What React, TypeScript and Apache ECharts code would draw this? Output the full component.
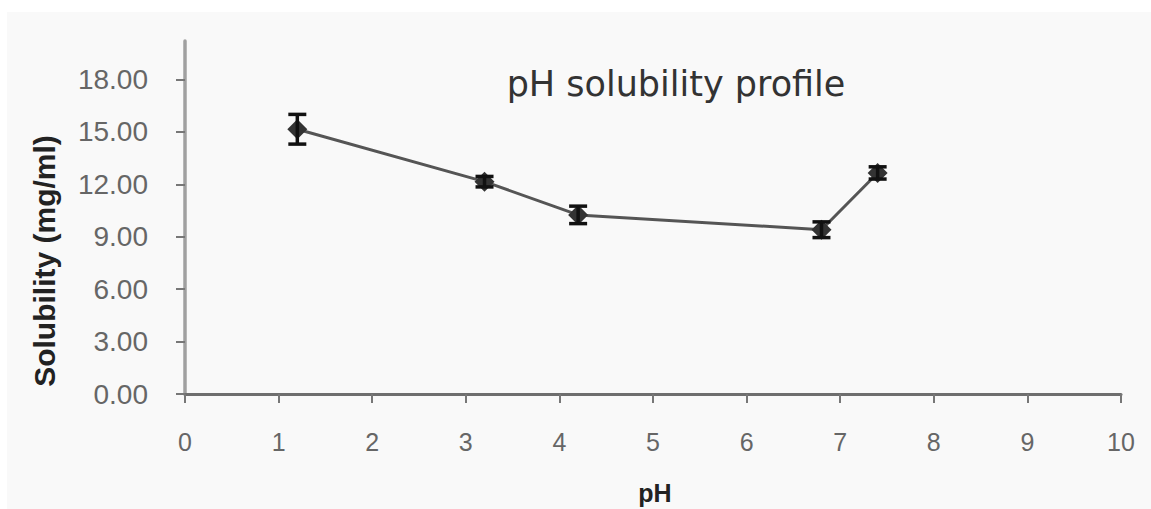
import React, { useEffect, useRef } from "react";
import * as echarts from "echarts";

const phValues = [1.2, 3.2, 4.2, 6.8, 7.4];
const solubility = [15.15, 12.15, 10.25, 9.4, 12.65];
const errors = [0.85, 0.3, 0.5, 0.45, 0.35];
const yTickValues = [0, 3, 6, 9, 12, 15, 18];
const xMin = 0;
const xMax = 10;
const xInterval = 1;
const yMin = 0;
const yMax = 20.2;

export default function App() {
  const ref = useRef<HTMLDivElement>(null);
  useEffect(() => {
    if (!ref.current) return;
    const chart = echarts.init(ref.current, null, { renderer: "svg" });
    const points = phValues.map((x, i) => [x, solubility[i]]);
    const errData = phValues.map((x, i) => [x, solubility[i], errors[i]]);
    chart.setOption({
      animation: false,
      backgroundColor: "#ffffff",
      graphic: [
        {
          type: "rect",
          z: -10,
          silent: true,
          shape: { x: 7, y: 12, width: 1144, height: 497 },
          style: { fill: "#f9f9f9" },
        },
        {
          type: "text",
          x: 676,
          y: 84,
          style: {
            text: "pH solubility profile",
            font: "normal 35px 'DejaVu Sans'",
            fill: "#333333",
            align: "center",
            verticalAlign: "middle",
          },
        },
        {
          type: "text",
          x: 44,
          y: 261,
          rotation: Math.PI / 2,
          style: {
            text: "Solubility (mg/ml)",
            font: "bold 30px 'Liberation Sans'",
            fill: "#222222",
            align: "center",
            verticalAlign: "middle",
          },
        },
        {
          type: "text",
          x: 655,
          y: 493,
          style: {
            text: "pH",
            font: "bold 25px 'Liberation Sans'",
            fill: "#222222",
            align: "center",
            verticalAlign: "middle",
          },
        },
      ],
      grid: { left: 185, right: 30, top: 41, bottom: 115, containLabel: false },
      xAxis: {
        type: "value",
        min: xMin,
        max: xMax,
        interval: xInterval,
        axisLine: { show: true, onZero: false, lineStyle: { color: "#6e6e6e", width: 3 } },
        axisTick: { show: true, inside: false, length: 9, lineStyle: { color: "#777777", width: 2 } },
        axisLabel: {
          margin: 35,
          fontFamily: "'Liberation Sans'",
          fontSize: 25,
          color: "#666666",
        },
        splitLine: { show: false },
      },
      yAxis: {
        type: "value",
        min: yMin,
        max: yMax,
        axisLine: { show: true, lineStyle: { color: "#a0a0a0", width: 3.5 } },
        axisTick: {
          show: true,
          inside: false,
          length: 9,
          customValues: yTickValues,
          lineStyle: { color: "#777777", width: 2 },
        },
        axisLabel: {
          margin: 37,
          customValues: yTickValues,
          fontFamily: "'Liberation Sans'",
          fontSize: 28,
          color: "#666666",
          formatter: (v: number) => v.toFixed(2),
        },
        splitLine: { show: false },
      },
      series: [
        {
          type: "line",
          data: points,
          symbol: "diamond",
          symbolSize: 20,
          lineStyle: { color: "#555555", width: 3 },
          itemStyle: { color: "#333333" },
          z: 3,
        },
        {
          type: "custom",
          data: errData,
          z: 4,
          renderItem: (params: any, api: any) => {
            const x = api.value(0);
            const y = api.value(1);
            const e = api.value(2);
            const top = api.coord([x, y + e]);
            const bot = api.coord([x, y - e]);
            const hw = 9;
            const style = { stroke: "#111111", lineWidth: 3.5 };
            return {
              type: "group",
              children: [
                { type: "line", shape: { x1: top[0], y1: top[1], x2: bot[0], y2: bot[1] }, style },
                { type: "line", shape: { x1: top[0] - hw, y1: top[1], x2: top[0] + hw, y2: top[1] }, style },
                { type: "line", shape: { x1: bot[0] - hw, y1: bot[1], x2: bot[0] + hw, y2: bot[1] }, style },
              ],
            };
          },
        },
      ],
    });
    return () => chart.dispose();
  }, []);
  return (
    <div
      ref={ref}
      style={{ position: "fixed", left: 0, top: 0, width: 1151, height: 509 }}
    />
  );
}
